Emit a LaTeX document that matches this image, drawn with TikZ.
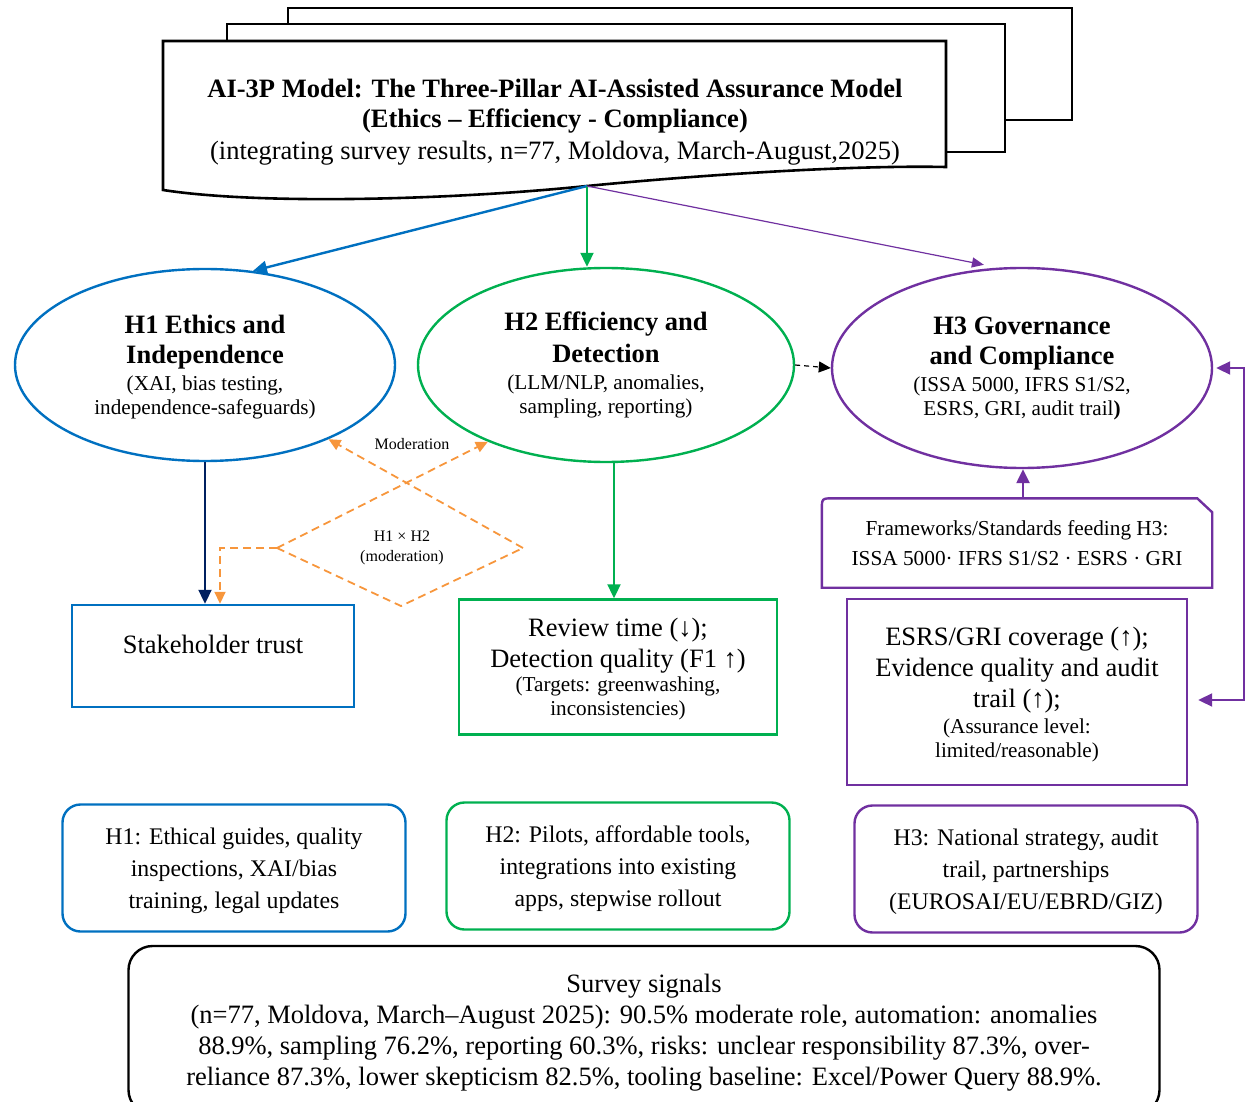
\documentclass[tikz,border=0pt]{standalone}
\usepackage{fontspec}
\setmainfont{Liberation Serif}
\usetikzlibrary{arrows.meta,shapes.geometric,calc}
\definecolor{hblue}{RGB}{0,112,192}
\definecolor{hgreen}{RGB}{0,176,80}
\definecolor{hpurple}{RGB}{112,48,160}
\definecolor{horange}{RGB}{247,150,60}
\definecolor{hnavy}{RGB}{0,32,96}
\newcommand\hd[1]{{\fontsize{26.5}{30}\selectfont\bfseries #1}}
\newcommand\bg[1]{{\fontsize{26.5}{30}\selectfont #1}}

\begin{document}
\begin{tikzpicture}[x=1pt,y=-1pt,
    hell/.style={ellipse,line width=2.4pt,inner sep=0pt,minimum width=380pt,minimum height=192pt,align=center,font=\fontsize{21.2}{24}\selectfont},
    obox/.style={rectangle,line width=2.4pt,inner sep=0pt,align=center,font=\fontsize{21.2}{24}\selectfont},
    rbox/.style={rectangle,rounded corners=18pt,line width=2.4pt,inner sep=0pt,align=center,minimum width=343pt,minimum height=127pt,text depth=0pt,font=\fontsize{23.8}{32}\selectfont},
    harrow/.style={-{Triangle[length=14pt,width=13pt]}},
    modline/.style={draw=horange,line width=1.8pt,dash pattern=on 8pt off 5pt},
  ]
  \useasboundingbox (0,0) rectangle (1248,1102);

  %header
  \draw[line width=2.6pt,fill=white] (288,8) rectangle (1072,120);
  \draw[line width=2.6pt,fill=white] (227,24) rectangle (1005,152);
  \draw[line width=2.6pt,fill=white] (163,41) -- (946,41) -- (946,167) .. controls (850,165) and (700,175) .. (587,186) .. controls (450,200) and (260,205) .. (163,190) -- cycle;
  \coordinate (tb) at (587,186);
  \node[font=\fontsize{26.5}{30}\selectfont,align=center] (title) at (555,122) {\textbf{AI-3P Model: The Three-Pillar AI-Assisted Assurance Model}\\\textbf{(Ethics – Efficiency - Compliance)}\\[2pt](integrating survey results, n=77, Moldova, March-August,2025)};

  %pillars
  \node[hell,draw=hblue,text depth=0pt] (h1) at (205,365) {\hd{H1 Ethics and}\\[6pt]\hd{Independence}\\[3pt](XAI, bias testing,\\independence-safeguards)};
  \node[hell,draw=hgreen,minimum width=376pt,minimum height=194pt] (h2) at (606,365) {\hd{H2 Efficiency and}\\[6pt]\hd{Detection}\\[3pt](LLM/NLP, anomalies,\\sampling, reporting)};
  \node[hell,draw=hpurple,minimum height=200pt] (h3) at (1022,368) {\hd{H3 Governance}\\[6pt]\hd{and Compliance}\\[3pt](ISSA 5000, IFRS S1/S2,\\ESRS, GRI, audit trail\textbf{)}};

  \draw[hblue,line width=2.4pt,harrow] (tb) -- (h1.63);
  \draw[hgreen,line width=2pt,harrow] (tb) -- (tb |- h2.north);
  \draw[hpurple,line width=1.2pt,-{Triangle[length=12pt,width=10pt]}] (tb) -- ([yshift=4pt]h3.111);
  \draw[line width=1.2pt,dash pattern=on 5pt off 4pt,-{Triangle[length=12pt,width=11pt]}] (h2.east) -- (h3.west);

  %outcomes
  \node[obox,draw=hblue,minimum width=282pt,minimum height=102pt,font=\fontsize{26.5}{30}\selectfont,text depth=24pt] (trust) at (213,656) {Stakeholder trust};
  \node[obox,draw=hgreen,minimum width=318pt,minimum height=135pt,text depth=0pt] (review) at (618,667) {\bg{Review time (↓);}\\[6pt]\bg{Detection quality (F1 ↑)}\\[0pt](Targets: greenwashing,\\inconsistencies)};
  \node[obox,draw=hpurple,minimum width=340pt,minimum height=186pt,text depth=0pt] (esrs) at (1017,692) {\bg{ESRS/GRI coverage (↑);}\\[6pt]\bg{Evidence quality and audit}\\[6pt]\bg{trail (↑);}\\[2pt](Assurance level:\\limited/reasonable)};
  \node[obox,minimum width=388pt,minimum height=87pt,font=\fontsize{21.3}{30}\selectfont] (fw) at (1017,543) {Frameworks/Standards feeding H3:\\ISSA 5000· IFRS S1/S2 · ESRS · GRI};
  \draw[hpurple,line width=2.4pt] (fw.south west) -- ([yshift=-12pt]fw.north west) .. controls (fw.north west) .. ([xshift=12pt]fw.north west) -- ([xshift=-15pt]fw.north east) -- ([yshift=-14pt]fw.north east) -- (fw.south east) -- cycle;

  \draw[hnavy,line width=2pt,harrow] (h1.south) -- (h1.south |- trust.north);
  \draw[hgreen,line width=2pt,harrow] ([xshift=-4pt]review.north |- h2.south) -- ([xshift=-4pt]review.north);
  \draw[hpurple,line width=2.4pt,harrow] ([xshift=6pt]fw.north) -- ([xshift=6pt]fw.north |- h3.south);
  \draw[hpurple,line width=2pt,{Triangle[length=14pt,width=13pt]}-{Triangle[length=14pt,width=13pt]}] ([xshift=3pt]h3.east) -- ++(28,0) |- ([xshift=10pt,yshift=-8pt]esrs.east);

  %moderation
  \coordinate (dl) at (277,548);
  \coordinate (dr) at (523,548);
  \coordinate (db) at (401,606);
  \node[font=\fontsize{16}{20}\selectfont,align=center] (mod) at (402,548) {H1 × H2\\(moderation)};
  \node[font=\fontsize{16}{19}\selectfont] (modlbl) at (412,444) {Moderation};
  \draw[modline] (dl) -- (db) -- (dr);
  \draw[modline,-{Triangle[length=12pt,width=11pt]}] (dl) -- (h2.213);
  \draw[modline,-{Triangle[length=12pt,width=11pt]}] (dr) -- (h1.329);
  \draw[modline,-{Triangle[length=12pt,width=11pt]}] (dl) -| ([xshift=7pt]trust.north);

  %measures
  \node[rbox,draw=hblue] (r1) at (234,868) {H1: Ethical guides, quality\\inspections, XAI/bias\\training, legal updates};
  \node[rbox,draw=hgreen] (r2) at (618,866) {H2: Pilots, affordable tools,\\integrations into existing\\apps, stepwise rollout};
  \node[rbox,draw=hpurple] (r3) at (1026,869) {H3: National strategy, audit\\trail, partnerships\\(EUROSAI/EU/EBRD/GIZ)};

  %survey
  \node[rbox,draw=black,rounded corners=24pt,minimum width=1031pt,minimum height=168pt,font=\fontsize{26.5}{31}\selectfont] (survey) at (644,1030) {Survey signals\\(n=77, Moldova, March–August 2025): 90.5\% moderate role, automation: anomalies\\88.9\%, sampling 76.2\%, reporting 60.3\%, risks: unclear responsibility 87.3\%, over-\\reliance 87.3\%, lower skepticism 82.5\%, tooling baseline: Excel/Power Query 88.9\%.};
\end{tikzpicture}
\end{document}
